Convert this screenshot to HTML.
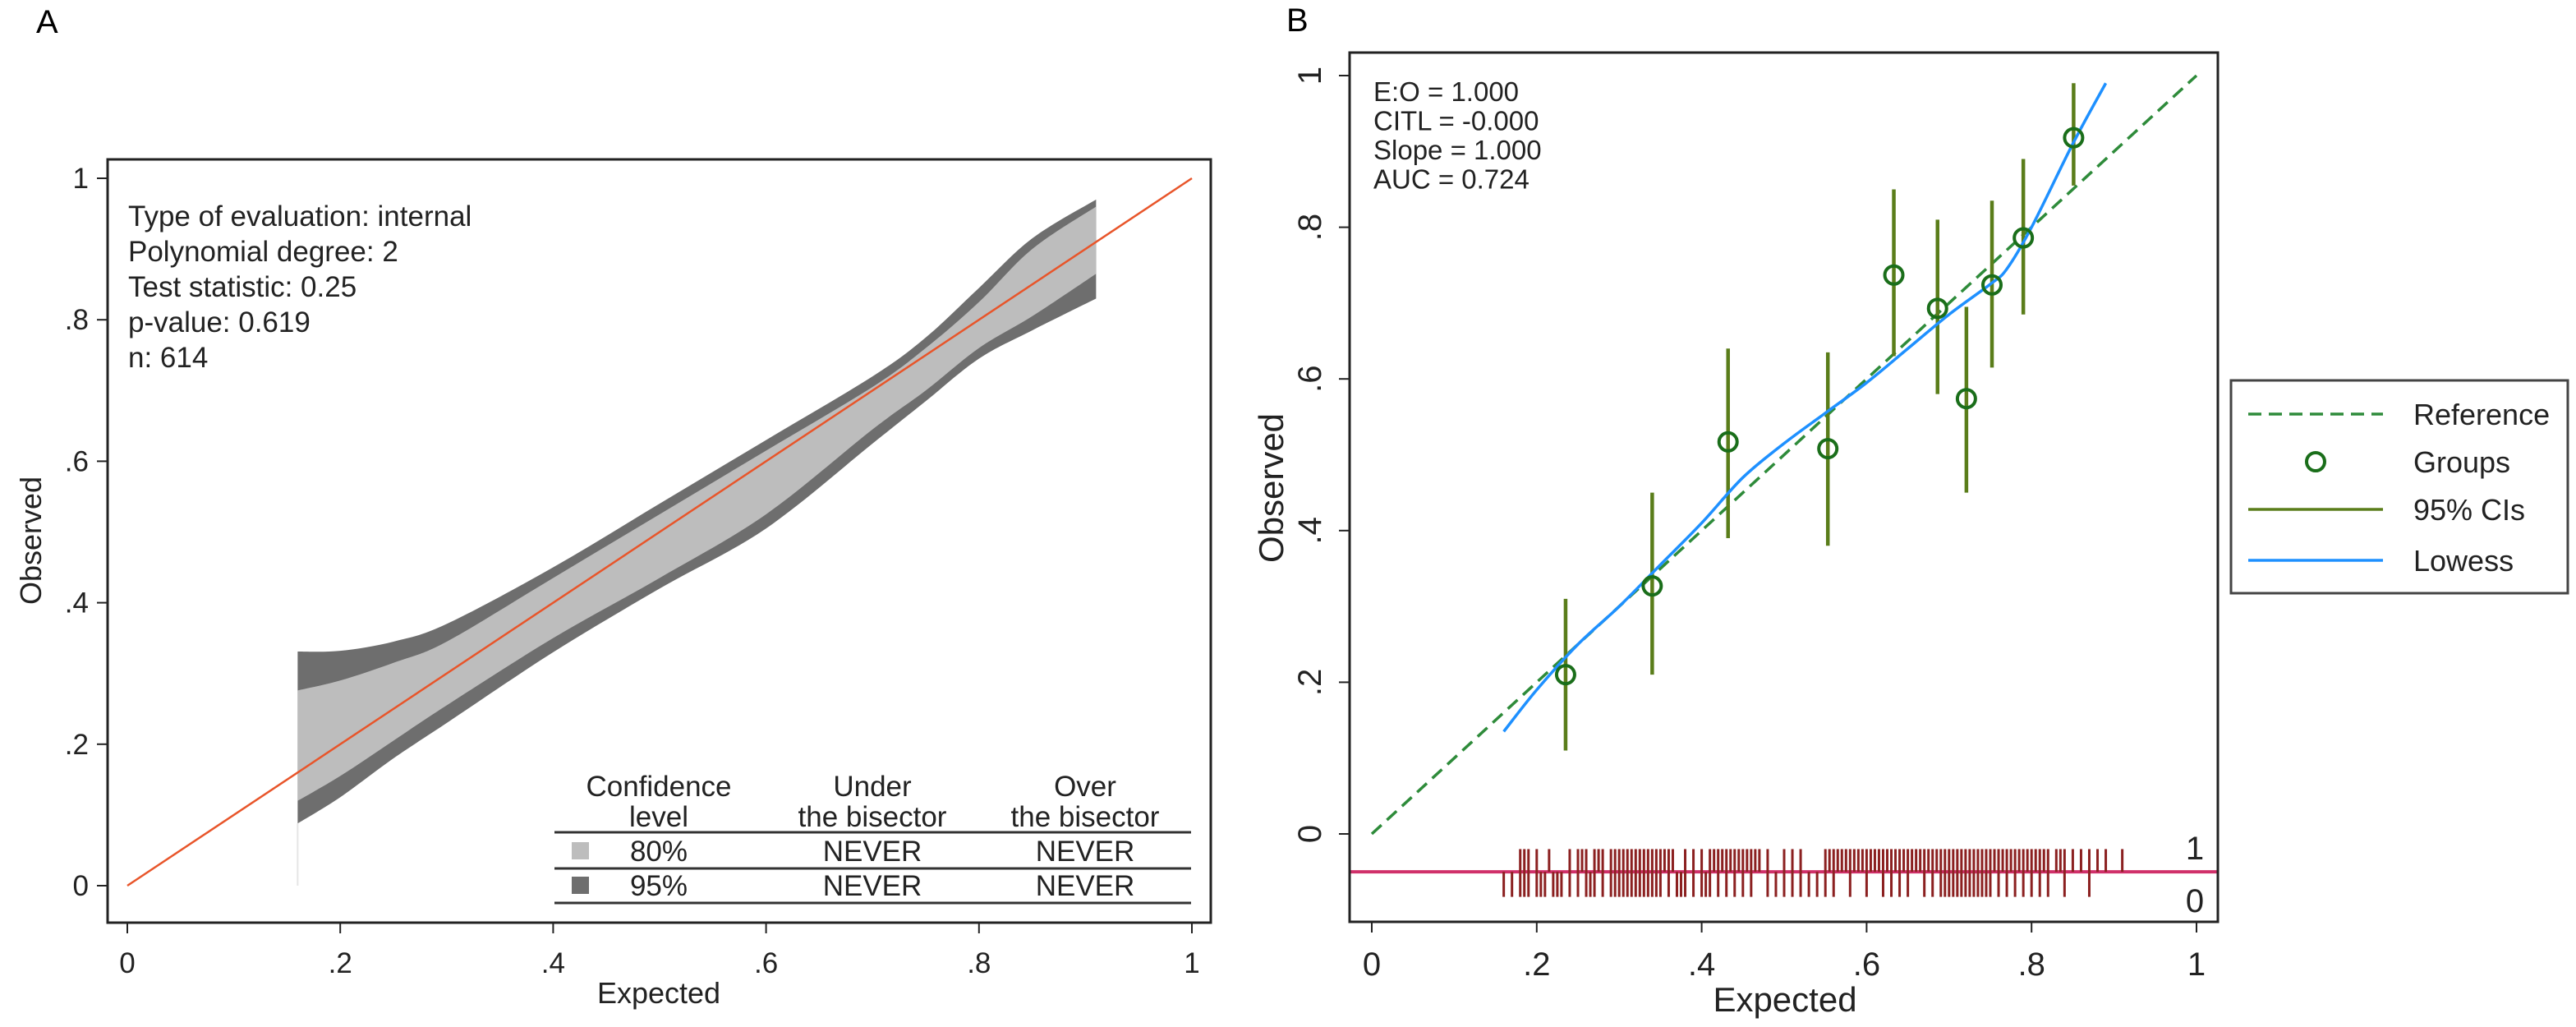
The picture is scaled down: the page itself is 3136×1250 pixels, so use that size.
<!DOCTYPE html>
<html><head><meta charset="utf-8"><style>
html,body{margin:0;padding:0;background:#fff;}
svg{display:block;font-family:"Liberation Sans",Arial,sans-serif;}
</style></head><body>
<svg id="fig" width="3136" height="1250" viewBox="0 0 3136 1250" xmlns="http://www.w3.org/2000/svg">
<rect x="0" y="0" width="3136" height="1250" fill="#fff"/>
<g id="panelA"></g>
<g id="panelB"></g>
</svg>
<script>
// ---------- Panel A data ----------
const bandX = [0.16,0.2,0.25,0.3,0.4,0.5,0.6,0.7,0.75,0.8,0.85,0.91];
const band95Upper = [0.331,0.332,0.345,0.37,0.45,0.54,0.63,0.72,0.775,0.845,0.915,0.97];
const band80Upper = [0.276,0.29,0.315,0.345,0.435,0.525,0.615,0.705,0.76,0.825,0.9,0.96];
const band80Lower = [0.12,0.155,0.205,0.255,0.35,0.435,0.525,0.645,0.70,0.76,0.805,0.865];
const band95Lower = [0.088,0.125,0.18,0.23,0.33,0.42,0.505,0.625,0.685,0.745,0.785,0.83];
const tickValues = [0,0.2,0.4,0.6,0.8,1];
const tickLabels = ["0",".2",".4",".6",".8","1"];
const statsA = ["Type of evaluation: internal","Polynomial degree: 2","Test statistic: 0.25","p-value: 0.619","n: 614"];

// ---------- Panel B data ----------
const groupX = [0.235,0.34,0.432,0.553,0.633,0.686,0.721,0.752,0.79,0.851];
const groupY = [0.21,0.327,0.517,0.508,0.737,0.693,0.574,0.724,0.786,0.918];
const ciLow = [0.11,0.21,0.39,0.38,0.63,0.58,0.45,0.615,0.685,0.855];
const ciHigh = [0.31,0.45,0.64,0.635,0.85,0.81,0.695,0.835,0.89,0.99];
const lowessX = [0.16,0.2,0.25,0.3,0.35,0.4,0.45,0.5,0.55,0.6,0.65,0.7,0.75,0.77,0.8,0.85,0.89];
const lowessY = [0.135,0.19,0.25,0.30,0.355,0.41,0.47,0.515,0.555,0.595,0.64,0.685,0.725,0.745,0.80,0.91,0.99];
const rugOnes = [0.18,0.185,0.19,0.2,0.215,0.24,0.25,0.255,0.26,0.27,0.275,0.28,0.29,0.295,0.3,0.305,0.31,0.315,0.32,0.325,0.33,0.335,0.34,0.345,0.35,0.355,0.36,0.365,0.38,0.39,0.4,0.41,0.415,0.42,0.425,0.43,0.435,0.44,0.445,0.45,0.455,0.46,0.465,0.47,0.48,0.5,0.51,0.52,0.55,0.555,0.56,0.565,0.57,0.575,0.58,0.585,0.59,0.595,0.6,0.605,0.61,0.615,0.62,0.625,0.63,0.635,0.64,0.645,0.65,0.655,0.66,0.665,0.67,0.675,0.68,0.685,0.69,0.695,0.70,0.705,0.71,0.715,0.72,0.725,0.73,0.735,0.74,0.745,0.75,0.755,0.76,0.765,0.77,0.775,0.78,0.785,0.79,0.795,0.8,0.805,0.81,0.815,0.82,0.83,0.835,0.84,0.85,0.86,0.87,0.88,0.89,0.91];
const rugZeros = [0.16,0.17,0.18,0.185,0.19,0.2,0.205,0.21,0.22,0.225,0.23,0.24,0.25,0.26,0.265,0.27,0.28,0.29,0.295,0.3,0.305,0.31,0.315,0.32,0.325,0.33,0.335,0.34,0.345,0.35,0.36,0.37,0.375,0.38,0.39,0.4,0.405,0.41,0.42,0.43,0.44,0.45,0.46,0.48,0.49,0.5,0.51,0.52,0.53,0.54,0.55,0.56,0.58,0.6,0.62,0.63,0.64,0.65,0.67,0.68,0.69,0.695,0.70,0.705,0.71,0.715,0.72,0.725,0.73,0.735,0.74,0.745,0.75,0.76,0.77,0.78,0.79,0.8,0.81,0.82,0.84,0.87];
const statsB = ["E:O = 1.000","CITL = -0.000","Slope = 1.000","AUC = 0.724"];
const legendLabels = ["Reference","Groups","95% CIs","Lowess"];

const NS = "http://www.w3.org/2000/svg";
function mk(parent, tag, attrs, text){
  const e = document.createElementNS(NS, tag);
  for (const k in attrs) e.setAttribute(k, attrs[k]);
  if (text !== undefined) e.textContent = text;
  parent.appendChild(e);
  return e;
}
// Catmull-Rom smooth path through screen points
function smooth(pts, move){
  let d = (move ? 'M' : 'L') + pts[0][0] + ' ' + pts[0][1] + ' ';
  for (let i = 0; i < pts.length - 1; i++){
    const p0 = pts[Math.max(i-1,0)], p1 = pts[i], p2 = pts[i+1], p3 = pts[Math.min(i+2,pts.length-1)];
    const c1x = p1[0] + (p2[0]-p0[0])/6, c1y = p1[1] + (p2[1]-p0[1])/6;
    const c2x = p2[0] - (p3[0]-p1[0])/6, c2y = p2[1] - (p3[1]-p1[1])/6;
    d += 'C' + c1x + ' ' + c1y + ' ' + c2x + ' ' + c2y + ' ' + p2[0] + ' ' + p2[1] + ' ';
  }
  return d;
}

// ================= PANEL A =================
(function(){
  const g = document.getElementById('panelA');
  const xA = v => 155 + v * (1451 - 155);
  const yA = v => 1078 - v * (1078 - 217);
  let t = mk(g,'text',{x:44,y:40,'font-size':40,fill:'#000'},'A');
  
  

  function bandPath(up, lo){
    const top = bandX.map((x,i)=>[xA(x), yA(up[i])]);
    const bot = bandX.map((x,i)=>[xA(x), yA(lo[i])]).reverse();
    return smooth(top, true) + smooth(bot, false) + 'Z';
  }
  let p = mk(g,'path',{d:bandPath(band95Upper,band95Lower),fill:'#6e6e6e'});
  
  
  p = mk(g,'path',{d:bandPath(band80Upper,band80Lower),fill:'#bdbdbd'});
  
  
  let l = mk(g,'line',{x1:xA(bandX[0]),y1:yA(band95Lower[0]),x2:xA(bandX[0]),y2:yA(0),stroke:'#e6e6e6','stroke-width':2});
  
  
  l = mk(g,'line',{x1:xA(0),y1:yA(0),x2:xA(1),y2:yA(1),stroke:'#e8552a','stroke-width':2.5});
  
  

  const fr = mk(g,'rect',{x:131,y:194,width:1343,height:929,fill:'none',stroke:'#222','stroke-width':3});
  
  

  tickValues.forEach((v,i)=>{
    let a = mk(g,'line',{x1:118,y1:yA(v),x2:131,y2:yA(v),stroke:'#222','stroke-width':2});
    
    
    let tt = mk(g,'text',{x:108,y:yA(v)+12,'font-size':35,'text-anchor':'end',fill:'#222'},tickLabels[i]);
    
    
    a = mk(g,'line',{x1:xA(v),y1:1123,x2:xA(v),y2:1136,stroke:'#222','stroke-width':2});
    
    
    tt = mk(g,'text',{x:xA(v),y:1184,'font-size':35,'text-anchor':'middle',fill:'#222'},tickLabels[i]);
    
    
  });
  t = mk(g,'text',{x:802,y:1221,'font-size':36,'text-anchor':'middle',fill:'#222'},'Expected');
  
  
  t = mk(g,'text',{x:0,y:0,'font-size':36,'text-anchor':'middle',fill:'#222',transform:'translate(50,658) rotate(-90)'},'Observed');
  
  

  statsA.forEach((s,i)=>{
    const e = mk(g,'text',{x:156,y:275+i*43,'font-size':35,fill:'#222'},s);
    
    
  });

  const hdr = [["Confidence","level",802],["Under","the bisector",1062],["Over","the bisector",1321]];
  hdr.forEach(h=>{
    let e = mk(g,'text',{x:h[2],y:969,'font-size':35,'text-anchor':'middle',fill:'#222'},h[0]);
    
    
    e = mk(g,'text',{x:h[2],y:1006,'font-size':35,'text-anchor':'middle',fill:'#222'},h[1]);
    
    
  });
  [1013,1057,1099].forEach(y=>{
    const e = mk(g,'line',{x1:675,y1:y,x2:1450,y2:y,stroke:'#333','stroke-width':3});
    
    
  });
  const rows = [["80%","#bdbdbd",1036],["95%","#6e6e6e",1078]];
  rows.forEach(r=>{
    let e = mk(g,'rect',{x:696,y:r[2]-11,width:21,height:21,fill:r[1]});
    
    
    e = mk(g,'text',{x:802,y:r[2]+12,'font-size':35,'text-anchor':'middle',fill:'#222'},r[0]);
    
    
    e = mk(g,'text',{x:1062,y:r[2]+12,'font-size':35,'text-anchor':'middle',fill:'#222'},'NEVER');
    
    
    e = mk(g,'text',{x:1321,y:r[2]+12,'font-size':35,'text-anchor':'middle',fill:'#222'},'NEVER');
    
    
  });
})();

// ================= PANEL B =================
(function(){
  const g = document.getElementById('panelB');
  const xB = v => 1670 + v * (2674 - 1670);
  const yB = v => 1015 - v * (1015 - 92);
  let t = mk(g,'text',{x:1566,y:38,'font-size':40,fill:'#000'},'B');
  
  

  let e = mk(g,'line',{x1:1643,y1:yB(-0.05),x2:2700,y2:yB(-0.05),stroke:'#d0306a','stroke-width':4});
  
  
  rugOnes.forEach(v=>{
    const r = mk(g,'line',{x1:xB(v),y1:yB(-0.02),x2:xB(v),y2:yB(-0.05),stroke:'#8b2020','stroke-width':3});
    
    
  });
  rugZeros.forEach(v=>{
    const r = mk(g,'line',{x1:xB(v),y1:yB(-0.05),x2:xB(v),y2:yB(-0.083),stroke:'#8b2020','stroke-width':3});
    
    
  });

  e = mk(g,'line',{x1:xB(0),y1:yB(0),x2:xB(1),y2:yB(1),stroke:'#2e8b3a','stroke-width':3.5,'stroke-dasharray':'16 9'});
  
  

  groupX.forEach((x,i)=>{
    const c = mk(g,'line',{x1:xB(x),y1:yB(ciLow[i]),x2:xB(x),y2:yB(ciHigh[i]),stroke:'#5a7d1a','stroke-width':4.5});
    
    
  });
  const lp = lowessX.map((x,i)=>[xB(x), yB(lowessY[i])]);
  e = mk(g,'path',{d:smooth(lp,true),fill:'none',stroke:'#1e90ff','stroke-width':3.5});
  
  
  groupX.forEach((x,i)=>{
    const c = mk(g,'circle',{cx:xB(x),cy:yB(groupY[i]),r:11,fill:'none',stroke:'#1a6e1a','stroke-width':4});
    
    
  });

  e = mk(g,'rect',{x:1643,y:64,width:1057,height:1058,fill:'none',stroke:'#222','stroke-width':3});
  
  

  tickValues.forEach((v,i)=>{
    let a = mk(g,'line',{x1:1630,y1:yB(v),x2:1643,y2:yB(v),stroke:'#222','stroke-width':2});
    
    
    let tt = mk(g,'text',{x:0,y:0,'font-size':40,'text-anchor':'middle',fill:'#222',transform:'translate(1608,'+yB(v)+') rotate(-90)'},tickLabels[i]);
    
    
    a = mk(g,'line',{x1:xB(v),y1:1122,x2:xB(v),y2:1135,stroke:'#222','stroke-width':2});
    
    
    tt = mk(g,'text',{x:xB(v),y:1187,'font-size':40,'text-anchor':'middle',fill:'#222'},tickLabels[i]);
    
    
  });
  t = mk(g,'text',{x:2173,y:1231,'font-size':42,'text-anchor':'middle',fill:'#222'},'Expected');
  
  
  t = mk(g,'text',{x:0,y:0,'font-size':42,'text-anchor':'middle',fill:'#222',transform:'translate(1562,594) rotate(-90)'},'Observed');
  
  
  t = mk(g,'text',{x:2672,y:1046,'font-size':40,'text-anchor':'middle',fill:'#222'},'1');
  
  
  t = mk(g,'text',{x:2672,y:1110,'font-size':40,'text-anchor':'middle',fill:'#222'},'0');
  
  

  statsB.forEach((s,i)=>{
    const s2 = mk(g,'text',{x:1672,y:123+i*35.5,'font-size':33,fill:'#222'},s);
    
    
  });

  const lg = mk(g,'g',{});
  
  
  e = mk(lg,'rect',{x:2716,y:463,width:410,height:259,fill:'#fff',stroke:'#444','stroke-width':3});
  
  
  const ly = [504,562,620,682];
  e = mk(lg,'line',{x1:2737,y1:ly[0],x2:2901,y2:ly[0],stroke:'#2e8b3a','stroke-width':3.5,'stroke-dasharray':'16 9'});
  
  
  e = mk(lg,'circle',{cx:2819,cy:ly[1],r:11,fill:'none',stroke:'#1a6e1a','stroke-width':4});
  
  
  e = mk(lg,'line',{x1:2737,y1:ly[2],x2:2901,y2:ly[2],stroke:'#5a7d1a','stroke-width':3.5});
  
  
  e = mk(lg,'line',{x1:2737,y1:ly[3],x2:2901,y2:ly[3],stroke:'#1e90ff','stroke-width':3.5});
  
  
  legendLabels.forEach((s,i)=>{
    const tx = mk(lg,'text',{x:2938,y:ly[i]+13,'font-size':36,fill:'#222'},s);
    
    
  });
})();
</script>
</body></html>
